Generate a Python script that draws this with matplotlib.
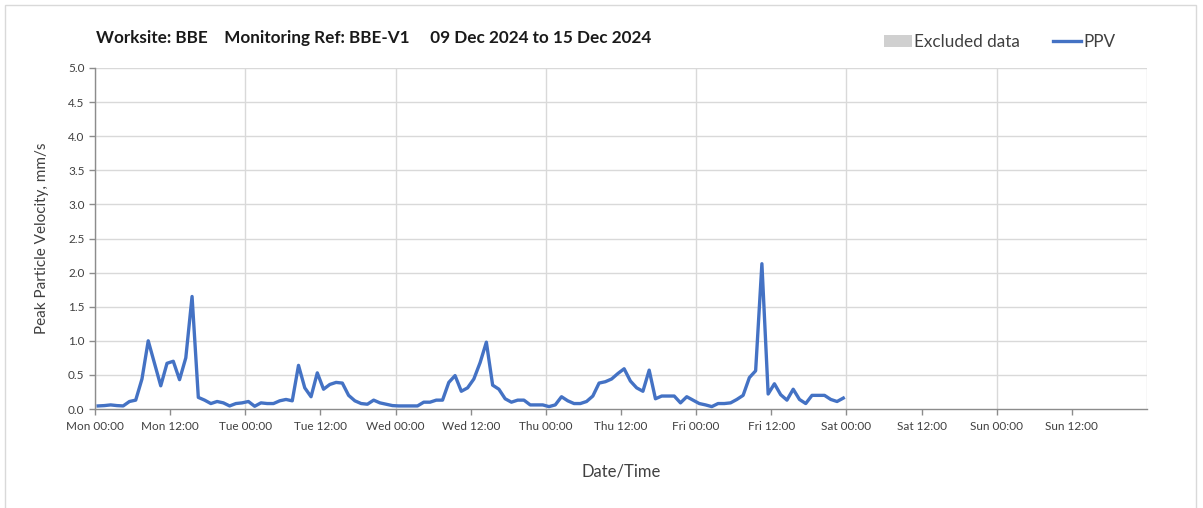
import matplotlib
matplotlib.use("Agg")
import matplotlib.pyplot as plt
from matplotlib.patches import Rectangle
from matplotlib.lines import Line2D
import pandas as pd

plt.rcParams['font.family'] = ['Lato', 'DejaVu Sans']

# ---- data ----
start_time = "2024-12-09 00:30"
ppv = [
    0.045, 0.05, 0.06, 0.05, 0.045, 0.11, 0.13, 0.44, 1.00, 0.67,
    0.34, 0.67, 0.70, 0.43, 0.75, 1.65, 0.17, 0.13, 0.08, 0.11,
    0.09, 0.045, 0.08, 0.09, 0.11, 0.04, 0.09, 0.08, 0.08, 0.12,
    0.14, 0.12, 0.64, 0.31, 0.18, 0.53, 0.29, 0.36, 0.39, 0.38,
    0.20, 0.12, 0.08, 0.07, 0.13, 0.09, 0.07, 0.05, 0.045, 0.045,
    0.045, 0.045, 0.10, 0.10, 0.13, 0.13, 0.39, 0.49, 0.26, 0.31,
    0.44, 0.68, 0.98, 0.35, 0.29, 0.15, 0.10, 0.13, 0.13, 0.06,
    0.06, 0.06, 0.035, 0.06, 0.18, 0.12, 0.08, 0.08, 0.11, 0.19,
    0.38, 0.40, 0.44, 0.52, 0.59, 0.41, 0.31, 0.26, 0.57, 0.15,
    0.19, 0.19, 0.19, 0.09, 0.18, 0.13, 0.08, 0.06, 0.035, 0.08,
    0.08, 0.09, 0.14, 0.20, 0.46, 0.56, 2.13, 0.22, 0.37, 0.21,
    0.13, 0.29, 0.14, 0.08, 0.20, 0.20, 0.20, 0.14, 0.11, 0.16,
]
times = pd.date_range(start_time, periods=len(ppv), freq="h")

x_start = pd.Timestamp("2024-12-09 00:00")
x_end = pd.Timestamp("2024-12-16 00:00")
x_tick_labels = ["Mon 00:00", "Mon 12:00", "Tue 00:00", "Tue 12:00",
                 "Wed 00:00", "Wed 12:00", "Thu 00:00", "Thu 12:00",
                 "Fri 00:00", "Fri 12:00", "Sat 00:00", "Sat 12:00",
                 "Sun 00:00", "Sun 12:00"]
y_ticks = [0.0, 0.5, 1.0, 1.5, 2.0, 2.5, 3.0, 3.5, 4.0, 4.5, 5.0]

title = "Worksite: BBE    Monitoring Ref: BBE-V1     09 Dec 2024 to 15 Dec 2024"

# ---- figure ----
W, H = 1203, 508
fig = plt.figure(figsize=(W / 100, H / 100), dpi=100)
fig.patch.set_facecolor("white")

# outer border
fig.patches.append(Rectangle((5 / W, -0.01), (1196 - 5) / W, 1 - 5 / H + 0.01,
                             transform=fig.transFigure, fill=False,
                             edgecolor="#d9d9d9", linewidth=1.0))

ax = fig.add_axes([95 / W, 1 - 409 / H, (1147 - 95) / W, (409 - 68) / H])
line_color = "#4472C4"
grid_color = "#d9d9d9"

ax.plot(times, ppv, color=line_color, linewidth=2.4, solid_joinstyle="round")

ax.set_xlim(x_start, x_end)
ax.set_ylim(0, 5.0)

tick_pos = pd.date_range(x_start, periods=len(x_tick_labels), freq="12h")
ax.set_xticks(tick_pos)
ax.set_xticklabels(x_tick_labels)
ax.set_yticks(y_ticks)
ax.set_yticklabels([f"{v:.1f}" for v in y_ticks])

# vertical grid only at day boundaries
for t in pd.date_range(x_start, x_end, freq="24h"):
    ax.axvline(t, color=grid_color, linewidth=1.0, zorder=0)
for v in y_ticks[1:]:
    ax.axhline(v, color=grid_color, linewidth=1.0, zorder=0)

for s in ["top", "right"]:
    ax.spines[s].set_visible(False)
for s in ["left", "bottom"]:
    ax.spines[s].set_color("#8c8c8c")
    ax.spines[s].set_linewidth(1.0)

ax.tick_params(axis="both", colors="#8c8c8c", length=4, width=1.0,
               labelcolor="#404040", labelsize=8.5)
ax.tick_params(axis="x", pad=5)

ax.set_ylabel("Peak Particle Velocity, mm/s", fontsize=11, color="#404040", labelpad=14)
ax.set_xlabel("Date/Time", fontsize=12, color="#404040", labelpad=22)

fig.text(96 / W, 1 - 38 / H, title, fontsize=12.3, fontweight="bold",
         color="#1a1a1a", ha="left", va="center")

# legend
handles = [Rectangle((0, 0), 1, 1, facecolor="#d0d0d0", edgecolor="none"),
           Line2D([0], [0], color=line_color, linewidth=2.4)]
leg = fig.legend(handles, ["Excluded data", "PPV"], loc="center left",
                 bbox_to_anchor=(869 / W, 1 - 42 / H), ncol=2, frameon=False,
                 fontsize=12.3, handlelength=1.6, handletextpad=0.15,
                 columnspacing=1.95)
for t in leg.get_texts():
    t.set_color("#404040")

fig.savefig("out.png", dpi=100)
